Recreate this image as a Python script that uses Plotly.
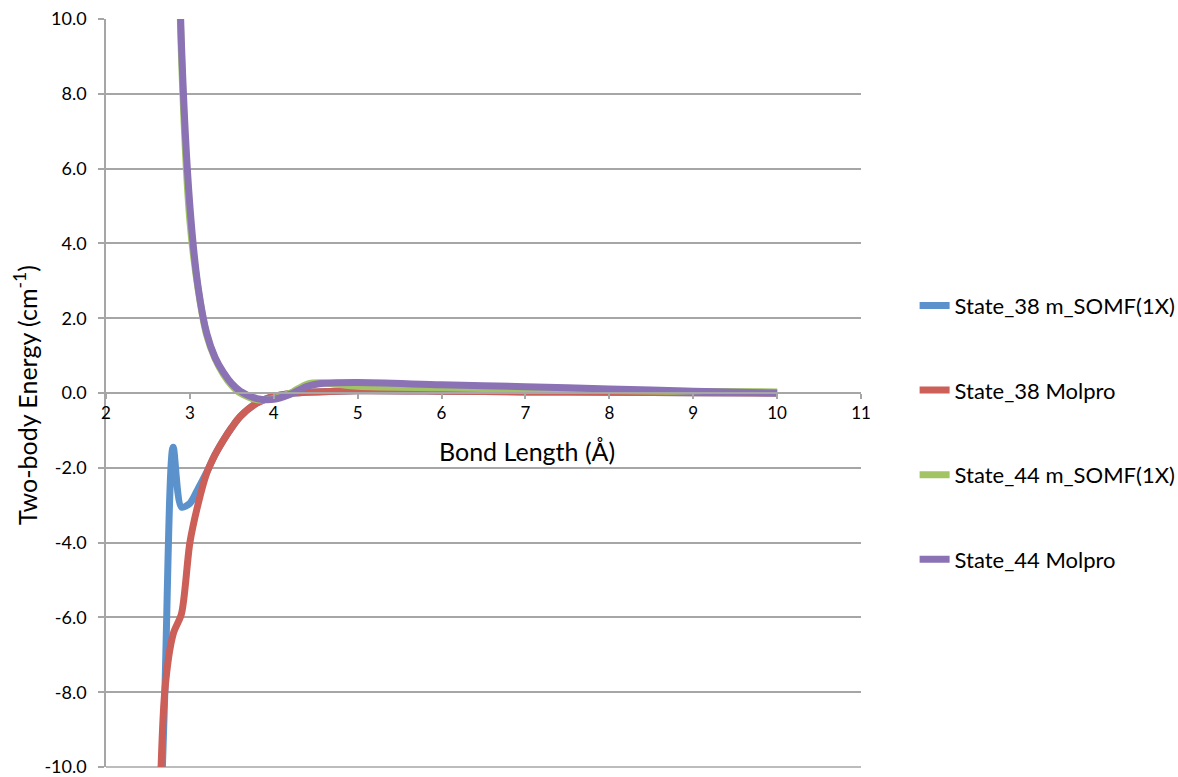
import plotly.graph_objects as go

# ---- data ----
x_38 = [2.6, 2.7, 2.8, 2.9, 3.0, 3.1, 3.2, 3.3, 3.4, 3.5, 3.6, 3.8, 4.0, 4.2, 4.5, 5.0, 6.0, 7.0, 8.0, 9.0, 10.0]
s38_somf = [-15.0, -8.1, -1.45, -3.05, -2.95, -2.55, -2.12, -1.65, -1.26, -0.92, -0.63, -0.27, -0.09, -0.01, 0.03, 0.06, 0.05, 0.03, 0.02, 0.01, 0.0]
s38_molpro = [-15.0, -8.0, -6.45, -5.9, -4.0, -2.95, -2.15, -1.65, -1.26, -0.92, -0.63, -0.27, -0.09, -0.01, 0.03, 0.06, 0.05, 0.03, 0.02, 0.01, 0.0]

x_44 = [2.8, 2.9, 3.0, 3.1, 3.2, 3.3, 3.4, 3.5, 3.6, 3.8, 4.0, 4.2, 4.4, 4.6, 5.0, 6.0, 7.0, 8.0, 9.0, 10.0]
s44_somf = [20.0, 9.0, 4.6, 2.75, 1.55, 0.92, 0.5, 0.2, 0.0, -0.18, -0.15, 0.0, 0.24, 0.27, 0.18, 0.14, 0.1, 0.07, 0.04, 0.03]
s44_molpro = [20.0, 9.3, 5.0, 2.8, 1.6, 0.95, 0.55, 0.25, 0.05, -0.15, -0.17, -0.03, 0.18, 0.26, 0.28, 0.22, 0.17, 0.11, 0.05, 0.0]

names = ["State_38 m_SOMF(1X)", "State_38 Molpro", "State_44 m_SOMF(1X)", "State_44 Molpro"]
colors = ["#5B92CC", "#CC5F57", "#A2C465", "#8B72B4"]

x_ticks = [2, 3, 4, 5, 6, 7, 8, 9, 10, 11]
y_ticks = [-10, -8, -6, -4, -2, 0, 2, 4, 6, 8, 10]

FONT = "Lato, Carlito, Calibri, sans-serif"
GRID = "#A6A6A6"

fig = go.Figure()
series = [(x_38, s38_somf), (x_38, s38_molpro), (x_44, s44_somf), (x_44, s44_molpro)]
for i, ((xs, ys), nm, col) in enumerate(zip(series, names, colors)):
    fig.add_trace(go.Scatter(
        x=xs, y=ys, name=nm, mode="lines",
        line=dict(color=col, width=7, shape="spline", smoothing=0.8),
        legendgroup=f"g{i}",
    ))

fig.update_layout(
    width=1178, height=777,
    margin=dict(l=106, r=317, t=19, b=10, autoexpand=False),
    paper_bgcolor="white", plot_bgcolor="white",
    font=dict(family=FONT, color="#000000"),
    showlegend=True,
    legend=dict(
        x=1.071, y=0.447, xanchor="left", yanchor="middle",
        font=dict(family=FONT, size=22),
        tracegroupgap=53, traceorder="grouped",
        bgcolor="rgba(0,0,0,0)",
    ),
    xaxis=dict(
        range=[2, 11], tickvals=x_ticks, ticktext=[str(v) for v in x_ticks],
        anchor="free", position=0.5, automargin=False,
        showgrid=False, zeroline=False,
        showline=True, linecolor=GRID, linewidth=1.5,
        ticks="outside", ticklen=5, tickcolor=GRID, tickwidth=1.5,
        tickfont=dict(family=FONT, size=17),
    ),
    yaxis=dict(
        range=[-10, 10], tickvals=y_ticks, ticktext=[f"{v:.1f}" for v in y_ticks],
        automargin=False, ticklabeloverflow="allow",
        showgrid=True, gridcolor=GRID, gridwidth=1.5,
        zeroline=False,
        showline=True, linecolor=GRID, linewidth=1.5,
        ticks="outside", ticklen=6, tickcolor=GRID, tickwidth=1.5,
        tickfont=dict(family=FONT, size=18),
        ticklabelstandoff=8,
    ),
    shapes=[
        dict(type="line", xref="paper", yref="paper", x0=0, x1=1, y0=0, y1=0,
             line=dict(color=GRID, width=1.5), layer="below"),
    ],
    annotations=[
        dict(text="Bond Length (Å)", xref="paper", yref="paper",
             x=(527 - 106) / 755, y=(767 - 451) / 748, xanchor="center", yanchor="middle",
             showarrow=False, font=dict(family=FONT, size=25)),
        dict(text="Two-body Energy (cm<sup>-1</sup>)", xref="paper", yref="paper",
             x=(25 - 106) / 755, y=(767 - 395) / 748, xanchor="center", yanchor="middle",
             textangle=-90, showarrow=False, font=dict(family=FONT, size=25)),
    ],
)

fig.write_html("out.html")
